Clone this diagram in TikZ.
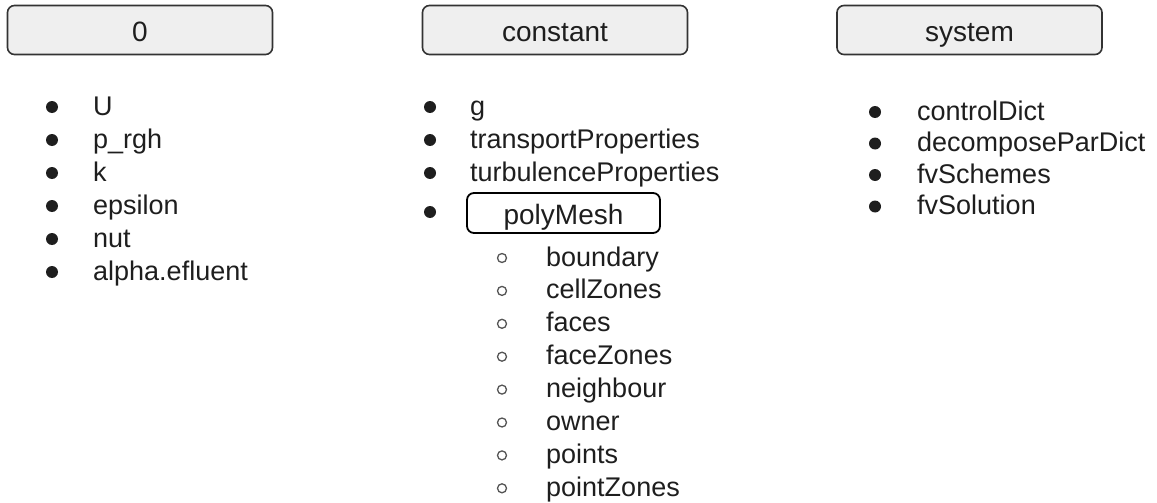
\documentclass[tikz,border=0pt]{standalone}
\usepackage{fontspec}
\setmainfont{Liberation Sans}
\definecolor{hdrfill}{HTML}{EFEFEF}
\definecolor{ink}{HTML}{1E1E1E}
\definecolor{edge}{HTML}{333333}
\definecolor{ringcol}{HTML}{555555}
\begin{document}
\begin{tikzpicture}[x=1pt,y=-1pt,
  hdr/.style={draw=edge, line width=1.6pt, fill=hdrfill, rounded corners=7pt,
    minimum width=265pt, minimum height=49pt, inner sep=0pt,
    text height=24pt, text depth=0pt, font=\fontsize{28}{32}\selectfont, text=ink},
  subhdr/.style={draw=black, line width=1.8pt, fill=white, rounded corners=7pt,
    minimum width=193pt, minimum height=40pt, inner sep=0pt,
    text height=22pt, text depth=0pt, font=\fontsize{28}{32}\selectfont, text=ink},
  dot/.style={circle, fill=ink, inner sep=0pt, minimum size=12pt},
  ring/.style={circle, draw=ringcol, line width=1.3pt, inner sep=0pt, minimum size=9pt},
  item/.style={anchor=base west, inner sep=0pt, font=\fontsize{27}{32}\selectfont, text=ink}
]
\useasboundingbox (0,0) rectangle (1157,503);

% headers
\node[hdr] (h0) at (140,30) {0};
\node[hdr] (hc) at (555,30) {constant};
\node[hdr] (hs) at (969.5,30) {system};

% column 0
\foreach \t [count=\i from 0] in {U,p\_rgh,k,epsilon,nut,alpha.efluent}{
  \node[dot] (a\i) at (52,107+33*\i) {};
  \node[item] (at\i) at (93,115+33*\i) {\t};
}

% column constant
\foreach \t [count=\i from 0] in {g,transportProperties,turbulenceProperties}{
  \node[dot] (c\i) at (430,107+33*\i) {};
  \node[item] (ct\i) at (470,115+33*\i) {\t};
}
\node[dot] (c3) at (430,212) {};
\node[subhdr] (pm) at (563.5,213) {polyMesh};

\foreach \t [count=\i from 0] in {boundary,cellZones,faces,faceZones,neighbour,owner,points,pointZones}{
  \node[ring] (p\i) at (502,258+32.9*\i) {};
  \node[item] (pt\i) at (546,266+32.9*\i) {\t};
}

% column system
\foreach \t [count=\i from 0] in {controlDict,decomposeParDict,fvSchemes,fvSolution}{
  \node[dot] (s\i) at (875,112+31.5*\i) {};
  \node[item] (st\i) at (917,120+31.5*\i) {\t};
}
\end{tikzpicture}
\end{document}
